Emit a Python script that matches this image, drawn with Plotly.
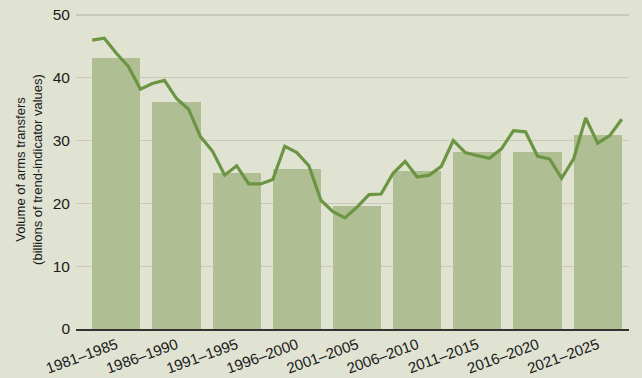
import plotly.graph_objects as go

periods = ["1981–1985", "1986–1990", "1991–1995", "1996–2000", "2001–2005",
           "2006–2010", "2011–2015", "2016–2020", "2021–2025"]
period_start = [1981, 1986, 1991, 1996, 2001, 2006, 2011, 2016, 2021]
period_avg = [43.1, 36.1, 24.8, 25.5, 19.6, 25.2, 28.2, 28.2, 30.9]

years = list(range(1981, 2026))
annual = [46.0, 46.3, 43.9, 41.8, 38.2,
          39.1, 39.6, 36.7, 35.0, 30.6,
          28.3, 24.5, 26.0, 23.1, 23.1,
          23.8, 29.1, 28.1, 26.0, 20.5,
          18.7, 17.7, 19.4, 21.4, 21.5,
          24.8, 26.7, 24.2, 24.5, 25.9,
          30.0, 28.1, 27.6, 27.2, 28.7,
          31.6, 31.4, 27.5, 27.1, 24.0,
          27.1, 33.6, 29.6, 30.8, 33.4]

bar_centres = [s + 2 for s in period_start]

BG = "#e0e2d2"
BAR = "#b0bf93"
LINE = "#6c9543"
GRID = "#c9cab9"
FONT = "Liberation Sans, Arial, sans-serif"

fig = go.Figure()
fig.add_trace(go.Bar(x=bar_centres, y=period_avg, width=4,
                     marker=dict(color=BAR, line=dict(width=0)),
                     hoverinfo="skip", showlegend=False))
fig.add_trace(go.Scatter(x=years, y=annual, mode="lines",
                         line=dict(color=LINE, width=3.2),
                         hoverinfo="skip", showlegend=False))

fig.update_layout(
    width=642, height=378,
    margin=dict(l=76, r=13, t=10, b=49),
    paper_bgcolor=BG, plot_bgcolor=BG,
    font=dict(family=FONT, size=13, color="#1a1a1a"),
    xaxis=dict(range=[1979.65, 2025.6], tickvals=bar_centres, ticktext=periods,
               tickangle=-20, showgrid=False, zeroline=False, automargin=False,
               showline=True, linecolor="#333333", linewidth=1.6,
               ticks="", tickfont=dict(size=15), fixedrange=True),
    yaxis=dict(range=[0, 50.8], dtick=10, showgrid=True, gridcolor=GRID,
               gridwidth=1.3, zeroline=False, ticks="", ticklabelstandoff=5,
               automargin=False, tickfont=dict(size=15.5),
               title=dict(text="Volume of arms transfers<br>(billions of trend-indicator values)",
                          font=dict(size=13), standoff=7)),
    bargap=0,
)

fig.write_html("out.html", config={"displayModeBar": False, "staticPlot": True},
               post_script="document.body.style.margin='0';document.body.style.overflow='hidden';")
